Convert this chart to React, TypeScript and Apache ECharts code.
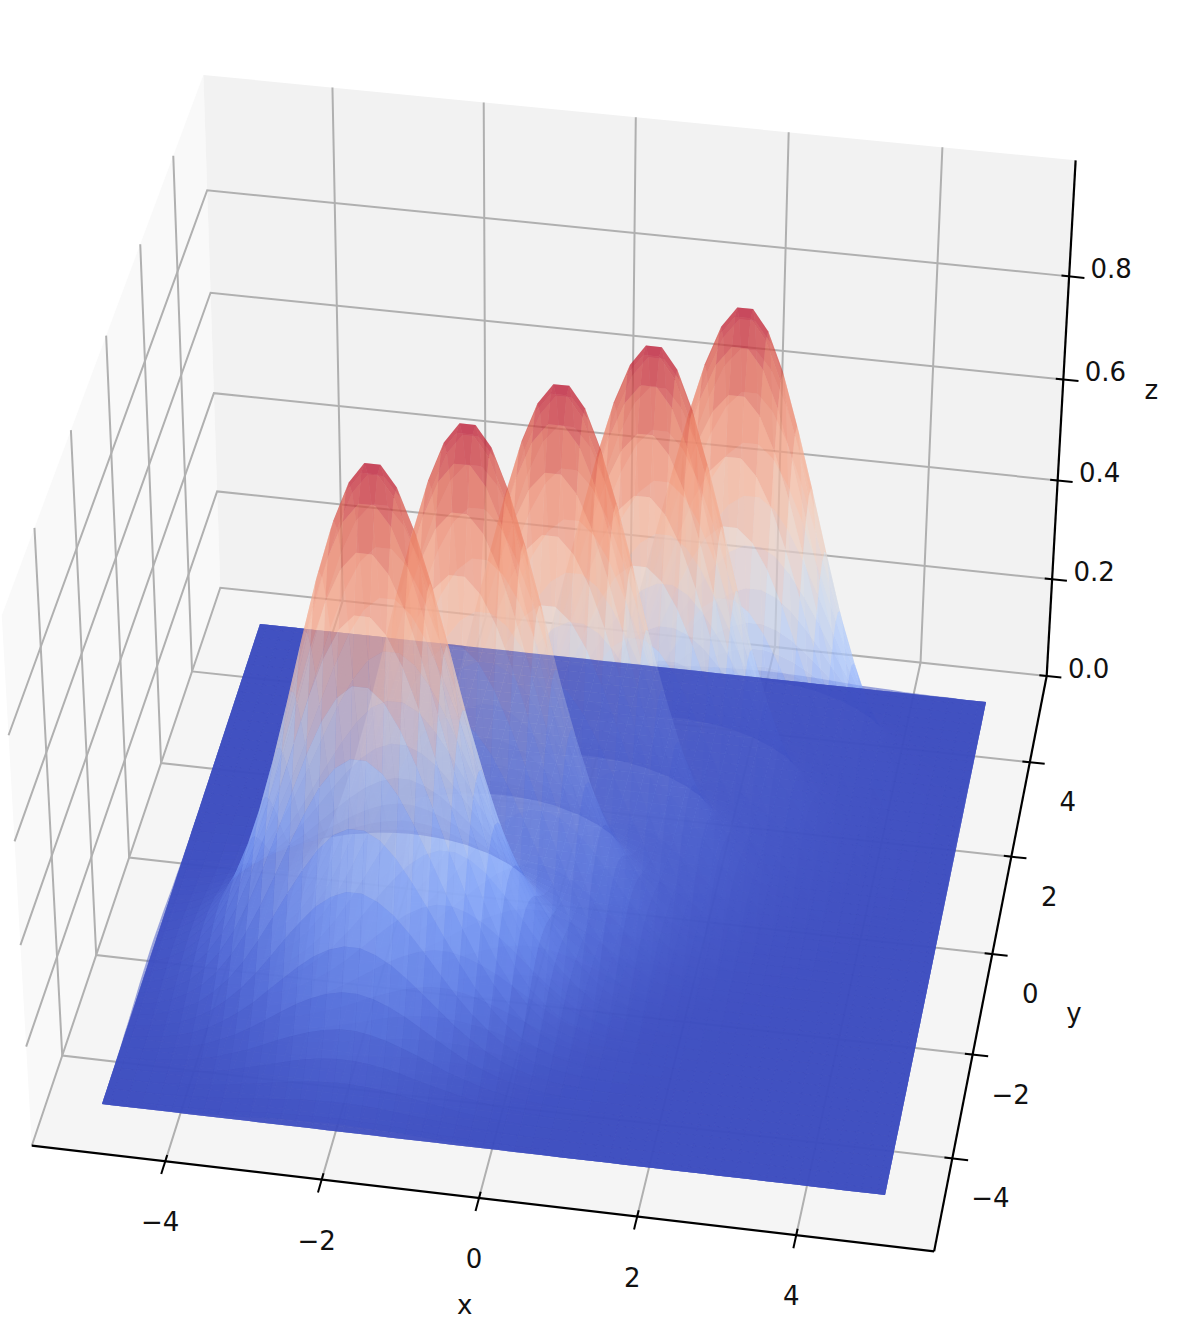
import React, { useEffect, useRef } from "react";
import * as echarts from "echarts";

// Height of one bump, read at |dx|, |dy| = 0.1, 0.3, 0.5 ... 3.5 from its top (one quadrant; the bump is symmetric)
const bumpQuadrant: number[][] = [
  [.990,.951,.878,.779,.664,.543,.427,.323,.235,.164,.110,.071,.044,.026,.015,.008,.004,.002],
  [.951,.914,.844,.748,.638,.522,.411,.310,.225,.157,.105,.068,.042,.025,.014,.008,.004,.002],
  [.878,.844,.779,.691,.589,.482,.379,.287,.208,.145,.097,.063,.039,.023,.013,.007,.004,.002],
  [.779,.748,.691,.613,.522,.427,.336,.254,.184,.129,.086,.056,.034,.020,.012,.006,.003,.002],
  [.664,.638,.589,.522,.445,.364,.287,.217,.157,.110,.074,.047,.029,.017,.010,.005,.003,.001],
  [.543,.522,.482,.427,.364,.298,.235,.177,.129,.090,.060,.039,.024,.014,.008,.004,.002,.001],
  [.427,.411,.379,.336,.287,.235,.185,.139,.101,.071,.047,.031,.019,.011,.006,.004,.002,.001],
  [.323,.310,.287,.254,.217,.177,.139,.105,.077,.053,.036,.023,.014,.008,.005,.003,.001,.001],
  [.235,.225,.208,.184,.157,.129,.101,.077,.056,.039,.026,.017,.010,.006,.004,.002,.001,.001],
  [.164,.157,.145,.129,.110,.090,.071,.053,.039,.027,.018,.012,.007,.004,.002,.001,.001,0],
  [.110,.105,.097,.086,.074,.060,.047,.036,.026,.018,.012,.008,.005,.003,.002,.001,0,0],
  [.071,.068,.063,.056,.047,.039,.031,.023,.017,.012,.008,.005,.003,.002,.001,.001,0,0],
  [.044,.042,.039,.034,.029,.024,.019,.014,.010,.007,.005,.003,.002,.001,.001,0,0,0],
  [.026,.025,.023,.020,.017,.014,.011,.008,.006,.004,.003,.002,.001,.001,0,0,0,0],
  [.015,.014,.013,.012,.010,.008,.006,.005,.004,.002,.002,.001,.001,0,0,0,0,0],
  [.008,.008,.007,.006,.005,.004,.004,.003,.002,.001,.001,.001,0,0,0,0,0,0],
  [.004,.004,.004,.003,.003,.002,.002,.001,.001,.001,0,0,0,0,0,0,0,0],
  [.002,.002,.002,.002,.001,.001,.001,.001,.001,0,0,0,0,0,0,0,0,0],
];
const bumpCentres = [2, 1, 0, -1, -2]; // drawn back to front, each at x = y = centre
const gridEnds = [-5, 5];
const gridFirst = -4.9;
const gridStep = 0.2;
const gridCount = 50; // inner grid lines, plus the two ends
const xTicks = [-4, -2, 0, 2, 4];
const yTicks = [-4, -2, 0, 2, 4];
const zTicks = [0, 0.2, 0.4, 0.6, 0.8];
const xTickLabels = ["−4", "−2", "0", "2", "4"];
const yTickLabels = ["−4", "−2", "0", "2", "4"];
const zTickLabels = ["0.0", "0.2", "0.4", "0.6", "0.8"];
const xLim = [-5.7, 5.74];
const yLim = [-5.92, 5.7];
const zLim = [0, 1.02];
const xTickShift = 0.015;
const yTickShift = -0.18;
const coolwarm = [
  [59, 76, 192], [98, 130, 234], [141, 176, 254], [184, 207, 249], [221, 220, 220],
  [245, 196, 172], [244, 154, 123], [226, 105, 82], [180, 4, 38],
];
const surfaceAlpha = 0.5;
const FONT = "DejaVu Sans";

// camera: homography fitted to the corners of the box
const CAM = { a: 770.92, b: 178.91, c: 102, d: 74.69, e: -429.82, f: 1104, g: -0.013647, h: 0.080412, p: -30, q: -563, r: -0.0568, zs: 0.978 };
function depth(x: number, y: number, z: number) {
  const u = (x + 5) / 10, v = (y + 5) / 10;
  return CAM.g * u + CAM.h * v + CAM.r * z * CAM.zs + 1;
}
function project(x: number, y: number, z: number): [number, number] {
  const u = (x + 5) / 10, v = (y + 5) / 10, zp = z * CAM.zs;
  const w = depth(x, y, z);
  return [(CAM.a * u + CAM.b * v + CAM.c + CAM.p * zp) / w, (CAM.d * u + CAM.e * v + CAM.f + CAM.q * zp) / w];
}
function colourOf(t: number) {
  const s = Math.max(0, Math.min(1, t)) * (coolwarm.length - 1);
  const i = Math.min(coolwarm.length - 2, Math.floor(s));
  const f = s - i;
  const c = coolwarm[i].map((v, n) => Math.round(v + (coolwarm[i + 1][n] - v) * f));
  return `rgb(${c[0]},${c[1]},${c[2]})`;
}

const gridLines: number[] = [gridEnds[0]];
for (let n = 0; n < gridCount; n++) gridLines.push(gridFirst + n * gridStep);
gridLines.push(gridEnds[1]);

function tableIndex(n: number, centre: number) {
  // inner grid line nearest the surface's end stands in for the end itself
  const clamped = Math.min(gridCount, Math.max(1, n));
  return Math.round((Math.abs(gridLines[clamped] - centre) - 0.1) / gridStep);
}
function bumpAt(i: number, j: number, centre: number) {
  const a = tableIndex(i, centre), b = tableIndex(j, centre);
  return a < bumpQuadrant.length && b < bumpQuadrant.length ? bumpQuadrant[b][a] : 0;
}

type P3 = [number, number, number];
type Cell = { pts: P3[]; fill: string };
function buildSurface(): Cell[] {
  const all: Cell[] = [];
  const n = gridLines.length - 1;
  for (const centre of bumpCentres) {
    const cells: (Cell & { w: number })[] = [];
    for (let j = 0; j < n; j++) {
      for (let i = 0; i < n; i++) {
        const corners: [number, number][] = [[i, j], [i + 1, j], [i + 1, j + 1], [i, j + 1]];
        const pts = corners.map(([a, b]) => [gridLines[a], gridLines[b], bumpAt(a, b, centre)] as P3);
        const mz = pts.reduce((s, p) => s + p[2], 0) / 4;
        const w = pts.reduce((s, p) => s + depth(p[0], p[1], p[2]), 0) / 4;
        cells.push({ pts, fill: colourOf(mz), w });
      }
    }
    cells.sort((m, k) => k.w - m.w); // farthest first
    all.push(...cells);
  }
  return all;
}

type Line = { pts: P3[]; color: string; width: number };
function buildLines() {
  const grid: Line[] = [];
  const gc = "#b0b0b0";
  const gw = 2;
  const [x0, x1] = xLim, [y0, y1] = yLim, [z0, z1] = zLim;
  xTicks.forEach((t) => { const x = t + xTickShift; grid.push({ pts: [[x, y0, z0], [x, y1, z0], [x, y1, z1]], color: gc, width: gw }); });
  yTicks.forEach((t) => { const y = t + yTickShift; grid.push({ pts: [[x1, y, z0], [x0, y, z0], [x0, y, z1]], color: gc, width: gw }); });
  zTicks.forEach((z) => grid.push({ pts: [[x0, y0, z], [x0, y1, z], [x1, y1, z]], color: gc, width: gw }));
  const axes: Line[] = [];
  const k = "#000000";
  axes.push({ pts: [[x0, y0, z0], [x1, y0, z0]], color: k, width: 2.2 });
  axes.push({ pts: [[x1, y0, z0], [x1, y1, z0]], color: k, width: 2.2 });
  axes.push({ pts: [[x1, y1, z0], [x1, y1, z1]], color: k, width: 2.2 });
  xTicks.forEach((t) => { const x = t + xTickShift; axes.push({ pts: [[x, y0 + 0.12, z0], [x, y0 - 0.24, z0]], color: k, width: 2 }); });
  yTicks.forEach((t) => { const y = t + yTickShift; axes.push({ pts: [[x1 - 0.1, y, z0], [x1 + 0.2, y, z0]], color: k, width: 2 }); });
  zTicks.forEach((z) => axes.push({ pts: [[x1 - 0.1, y1, z], [x1 + 0.2, y1, z]], color: k, width: 2 }));
  return { grid, axes };
}

type Label = { text: string; at: P3; dx: number; dy: number };
function buildLabels(): Label[] {
  const out: Label[] = [];
  const [, x1] = xLim, [y0, y1] = yLim;
  xTicks.forEach((t, n) => out.push({ text: xTickLabels[n], at: [t + xTickShift, y0, 0], dx: -5, dy: 61 }));
  yTicks.forEach((t, n) => out.push({ text: yTickLabels[n], at: [x1, t + yTickShift, 0], dx: 38, dy: 40 }));
  zTicks.forEach((z, n) => out.push({ text: zTickLabels[n], at: [x1, y1, z], dx: 42, dy: -7 }));
  out.push({ text: "x", at: [0, y0, 0], dx: -13, dy: 107 });
  out.push({ text: "y", at: [x1, 0, 0], dx: 80, dy: 68 });
  out.push({ text: "z", at: [x1, y1, 0.6], dx: 88, dy: 11 });
  return out;
}

export default function App() {
  const ref = useRef<HTMLDivElement>(null);
  useEffect(() => {
    const chart = echarts.init(ref.current!, null, { renderer: "svg" });
    const cells = buildSurface();
    const { grid, axes } = buildLines();
    const labels = buildLabels();
    const [x0, x1] = xLim, [y0, y1] = yLim, [z0, z1] = zLim;
    const panes: { pts: P3[]; fill: string }[] = [
      { pts: [[x0, y0, z0], [x0, y1, z0], [x0, y1, z1], [x0, y0, z1]], fill: "#f9f9f9" },
      { pts: [[x0, y1, z0], [x1, y1, z0], [x1, y1, z1], [x0, y1, z1]], fill: "#f2f2f2" },
      { pts: [[x0, y0, z0], [x1, y0, z0], [x1, y1, z0], [x0, y1, z0]], fill: "#f5f5f5" },
    ];
    const toPx = (api: any, p: P3) => {
      const s = project(p[0], p[1], p[2]);
      return api.coord([s[0], s[1]]);
    };
    const idx = (list: any[]) => list.map((_, i) => [i, i]);
    const polySeries = (list: { pts: P3[]; fill: string }[], opacity: number, z: number) => ({
      type: "custom",
      coordinateSystem: "cartesian2d",
      silent: true,
      clip: false,
      progressive: 0,
      z,
      data: idx(list),
      renderItem: (params: any, api: any) => {
        const c = list[params.dataIndex];
        return {
          type: "polygon",
          shape: { points: c.pts.map((p) => toPx(api, p)) },
          style: { fill: c.fill, opacity, stroke: "none" },
        };
      },
    });
    const lineSeries = (list: Line[], z: number) => ({
      type: "custom",
      coordinateSystem: "cartesian2d",
      silent: true,
      clip: false,
      progressive: 0,
      z,
      data: idx(list),
      renderItem: (params: any, api: any) => {
        const l = list[params.dataIndex];
        return {
          type: "polyline",
          shape: { points: l.pts.map((p) => toPx(api, p)) },
          style: { stroke: l.color, lineWidth: l.width, fill: "none", lineJoin: "miter" },
        };
      },
    });
    chart.setOption({
      animation: false,
      backgroundColor: "#ffffff",
      grid: { left: 0, right: 0, top: 0, bottom: 0 },
      xAxis: { type: "value", min: 0, max: 1200, show: false },
      yAxis: { type: "value", min: 0, max: 1337, inverse: true, show: false },
      series: [
        polySeries(panes, 1, 1),
        lineSeries(grid, 2),
        lineSeries(axes, 3),
        polySeries(cells, surfaceAlpha, 4),
        {
          type: "custom",
          coordinateSystem: "cartesian2d",
          silent: true,
          clip: false,
          z: 5,
          data: idx(labels),
          renderItem: (params: any, api: any) => {
            const l = labels[params.dataIndex];
            const c = toPx(api, l.at);
            return {
              type: "text",
              x: c[0] + l.dx,
              y: c[1] + l.dy,
              style: {
                text: l.text,
                fill: "#111111",
                font: `26px "${FONT}"`,
                align: "center",
                verticalAlign: "middle",
              },
            };
          },
        },
      ],
    } as any);
    return () => chart.dispose();
  }, []);
  return <div ref={ref} style={{ position: "absolute", left: 0, top: 0, width: 1200, height: 1337 }} />;
}
